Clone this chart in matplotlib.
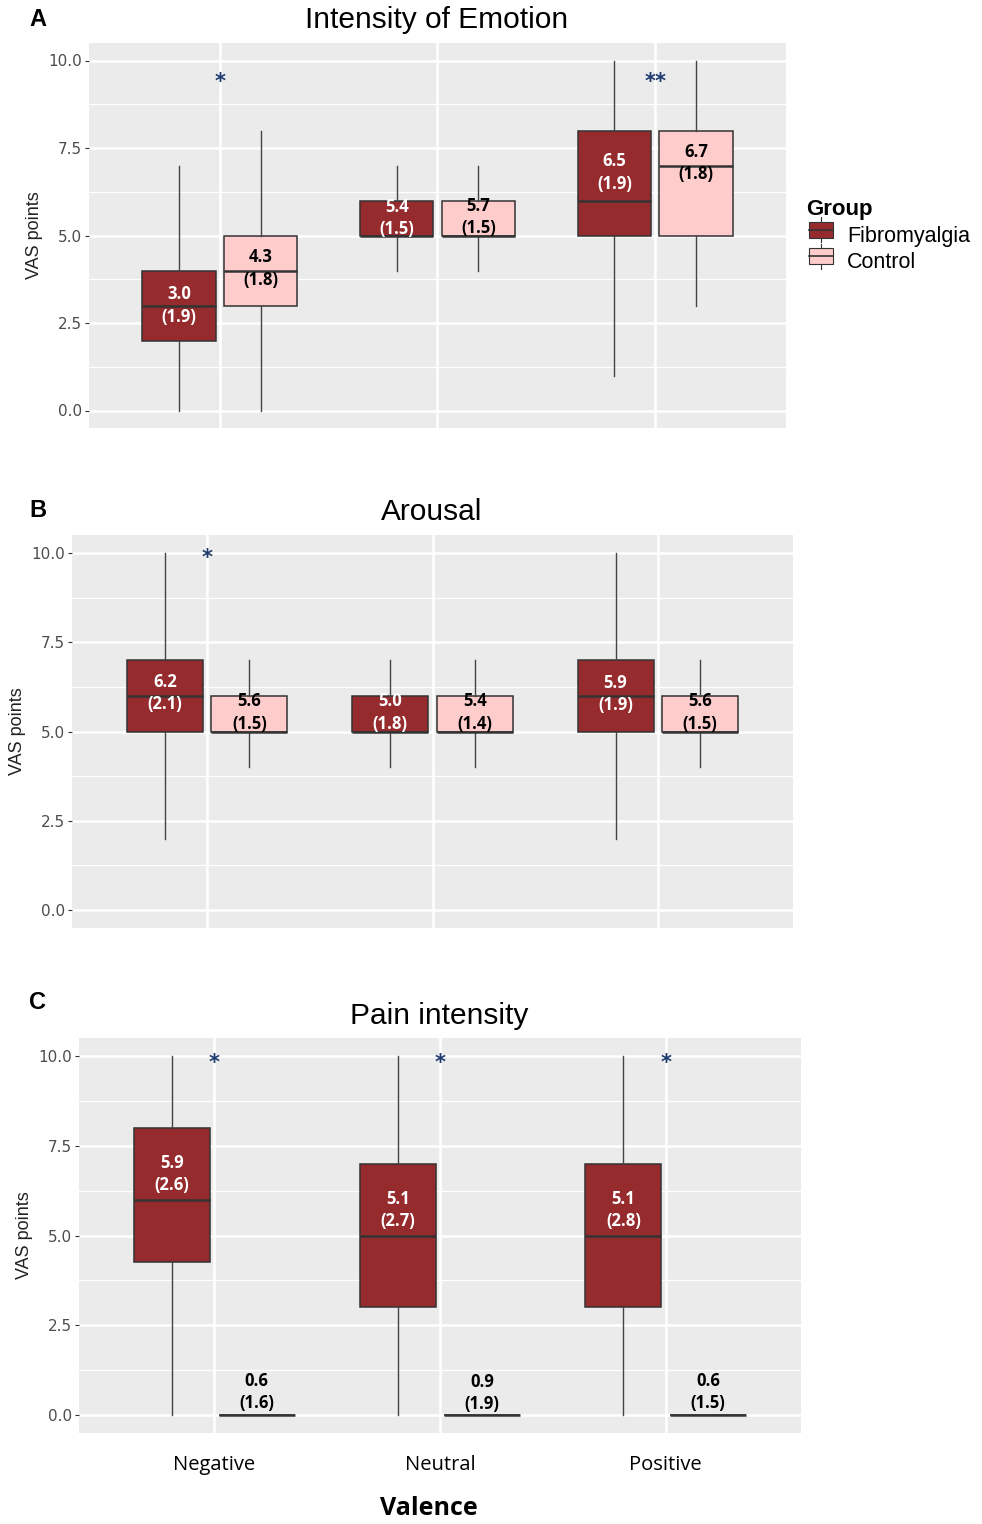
import matplotlib
matplotlib.use("Agg")
import matplotlib.pyplot as plt
from matplotlib.patches import Rectangle
from matplotlib.lines import Line2D
from matplotlib.legend_handler import HandlerBase

valence = ["Negative", "Neutral", "Positive"]
groups = ["Fibromyalgia", "Control"]

# panel A - intensity of emotion
a_fib_lo = [0, 4, 1]
a_fib_q1 = [2, 5, 5]
a_fib_med = [3, 5, 6]
a_fib_q3 = [4, 6, 8]
a_fib_hi = [7, 7, 10]
a_fib_mean = [3.0, 5.4, 6.5]
a_fib_sd = [1.9, 1.5, 1.9]
a_con_lo = [0, 4, 3]
a_con_q1 = [3, 5, 5]
a_con_med = [4, 5, 7]
a_con_q3 = [5, 6, 8]
a_con_hi = [8, 7, 10]
a_con_mean = [4.3, 5.7, 6.7]
a_con_sd = [1.8, 1.5, 1.8]
a_stars = ["*", "", "**"]

# panel B - arousal
b_fib_lo = [2, 4, 2]
b_fib_q1 = [5, 5, 5]
b_fib_med = [6, 5, 6]
b_fib_q3 = [7, 6, 7]
b_fib_hi = [10, 7, 10]
b_fib_mean = [6.2, 5.0, 5.9]
b_fib_sd = [2.1, 1.8, 1.9]
b_con_lo = [4, 4, 4]
b_con_q1 = [5, 5, 5]
b_con_med = [5, 5, 5]
b_con_q3 = [6, 6, 6]
b_con_hi = [7, 7, 7]
b_con_mean = [5.6, 5.4, 5.6]
b_con_sd = [1.5, 1.4, 1.5]
b_stars = ["*", "", ""]

# panel C - pain intensity
c_fib_lo = [0, 0, 0]
c_fib_q1 = [4.25, 3, 3]
c_fib_med = [6, 5, 5]
c_fib_q3 = [8, 7, 7]
c_fib_hi = [10, 10, 10]
c_fib_mean = [5.9, 5.1, 5.1]
c_fib_sd = [2.6, 2.7, 2.8]
c_con_lo = [0, 0, 0]
c_con_q1 = [0, 0, 0]
c_con_med = [0, 0, 0]
c_con_q3 = [0, 0, 0]
c_con_hi = [0, 0, 0]
c_con_mean = [0.6, 0.9, 0.6]
c_con_sd = [1.6, 1.9, 1.5]
c_stars = ["*", "*", "*"]

# where the mean (sd) labels sit
a_lab_y = ([3.0, 5.5, 6.8], [4.06, 5.52, 7.07])
b_lab_y = ([6.08, 5.53, 6.06], [5.53, 5.53, 5.53])
c_lab_y = ([6.72, 5.7, 5.7], [0.65, 0.62, 0.65])

FIB = "#962B2E"
CON = "#FFCCCC"
EDGE = "#333333"
STAR = "#1F3A6E"

W, H = 982, 1524
fig = plt.figure(figsize=(W / 100, H / 100), dpi=100)


def px_axes(l, t, r, b):
    return fig.add_axes([l / W, 1 - b / H, (r - l) / W, (b - t) / H])


def stats(lo, q1, med, q3, hi):
    return [dict(whislo=lo[i], q1=q1[i], med=med[i], q3=q3[i], whishi=hi[i], fliers=[])
            for i in range(len(lo))]


def panel(ax, fib, con, fib_ms, con_ms, lab_y, stars, star_y):
    x = [1, 2, 3]
    for st, ms, ly, col, txtcol, off in [(fib, fib_ms, lab_y[0], FIB, "white", -0.1875),
                                         (con, con_ms, lab_y[1], CON, "black", 0.1875)]:
        ax.bxp(st, positions=[p + off for p in x], widths=0.3375, patch_artist=True,
               showcaps=False, showfliers=False,
               boxprops=dict(facecolor=col, edgecolor=EDGE, linewidth=1.1),
               medianprops=dict(color=EDGE, linewidth=1.8),
               whiskerprops=dict(color="#444444", linewidth=1.0), zorder=3)
        for i in range(3):
            ax.text(x[i] + off, ly[i], "%.1f\n(%.1f)" % (ms[0][i], ms[1][i]),
                    ha="center", va="center", color=txtcol, fontsize=12,
                    fontweight="bold", family="Open Sans", linespacing=1.3, zorder=5)
    for i in range(3):
        if stars[i]:
            ax.text(x[i], star_y, stars[i], ha="center", va="center", color=STAR,
                    fontsize=15, fontweight="bold", family="DejaVu Sans", zorder=5)
    ax.set_xlim(0.4, 3.6)
    ax.set_ylim(-0.5, 10.5)
    ax.set_facecolor("#EBEBEB")
    ax.set_yticks([0, 2.5, 5, 7.5, 10])
    ax.set_yticks([1.25, 3.75, 6.25, 8.75], minor=True)
    ax.set_yticklabels(["0.0", "2.5", "5.0", "7.5", "10.0"])
    ax.set_xticks(x)
    ax.set_xticklabels([])
    ax.grid(True, which="major", color="white", linewidth=1.8, zorder=0)
    ax.grid(True, which="minor", axis="y", color="white", linewidth=0.9, zorder=0)
    ax.set_axisbelow(True)
    for s in ax.spines.values():
        s.set_visible(False)
    ax.tick_params(axis="y", which="major", length=3, color="#333333", labelcolor="#4D4D4D",
                   labelsize=11, pad=2)
    ax.tick_params(axis="y", which="minor", length=0)
    ax.tick_params(axis="x", length=0)


axA = px_axes(89, 43, 786, 428)
panel(axA, stats(a_fib_lo, a_fib_q1, a_fib_med, a_fib_q3, a_fib_hi),
      stats(a_con_lo, a_con_q1, a_con_med, a_con_q3, a_con_hi),
      (a_fib_mean, a_fib_sd), (a_con_mean, a_con_sd), a_lab_y, a_stars, 9.4)

axB = px_axes(72, 535, 793, 928)
panel(axB, stats(b_fib_lo, b_fib_q1, b_fib_med, b_fib_q3, b_fib_hi),
      stats(b_con_lo, b_con_q1, b_con_med, b_con_q3, b_con_hi),
      (b_fib_mean, b_fib_sd), (b_con_mean, b_con_sd), b_lab_y, b_stars, 9.85)

axC = px_axes(79, 1038, 801, 1433)
panel(axC, stats(c_fib_lo, c_fib_q1, c_fib_med, c_fib_q3, c_fib_hi),
      stats(c_con_lo, c_con_q1, c_con_med, c_con_q3, c_con_hi),
      (c_fib_mean, c_fib_sd), (c_con_mean, c_con_sd), c_lab_y, c_stars, 9.8)
axC.set_xticklabels(valence, family="Open Sans", fontsize=14.5)
axC.tick_params(axis="x", pad=16)
axC.set_xlabel("Valence", family="Open Sans", fontsize=18, fontweight="bold")
axC.xaxis.set_label_coords(0.485, -0.16)

for ax in (axA, axB, axC):
    ax.set_ylabel("VAS points", fontsize=13, family="Liberation Sans", color="#222222", labelpad=4)

# titles and panel letters
for txt, x, y in [("Intensity of Emotion", 437, 20), ("Arousal", 432, 512), ("Pain intensity", 439, 1016)]:
    fig.text(x / W, 1 - y / H, txt, ha="center", va="center", fontsize=21.5, family="Liberation Sans")
for txt, y in [("A", 20), ("B", 510), ("C", 1002)]:
    fig.text(38 / W, 1 - y / H, txt, ha="center", va="center", fontsize=17, fontweight="bold",
             family="Liberation Sans")


class BoxKey(HandlerBase):
    def create_artists(self, legend, orig, xd, yd, width, height, fontsize, trans):
        fc = orig.get_facecolor()
        w = height * 1.25
        x0 = xd + (width - w) / 2
        r = Rectangle((x0, yd + height * 0.1), w, height * 0.8, facecolor=fc,
                      edgecolor=EDGE, linewidth=0.8, transform=trans)
        m = Line2D([x0, x0 + w], [yd + height / 2] * 2, color=EDGE, linewidth=1.2, transform=trans)
        wl = Line2D([x0 + w / 2] * 2, [yd - height * 0.15, yd + height * 1.15], color=EDGE,
                    linewidth=0.8, transform=trans)
        return [wl, r, m]


handles = [Rectangle((0, 0), 1, 1, facecolor=FIB), Rectangle((0, 0), 1, 1, facecolor=CON)]
leg = fig.legend(handles, groups, handler_map={Rectangle: BoxKey()}, loc="upper left",
                 bbox_to_anchor=(787 / W, 1 - 180 / H), frameon=False, title="Group",
                 prop=dict(family="Liberation Sans", size=15.5), handlelength=1.4,
                 handleheight=1.0, handletextpad=0.5, labelspacing=0.2)
leg.get_title().set_fontweight("bold")
leg.get_title().set_fontsize(16)
leg.get_title().set_family("Liberation Sans")
leg._legend_box.align = "left"

fig.savefig("out.png", dpi=100)
